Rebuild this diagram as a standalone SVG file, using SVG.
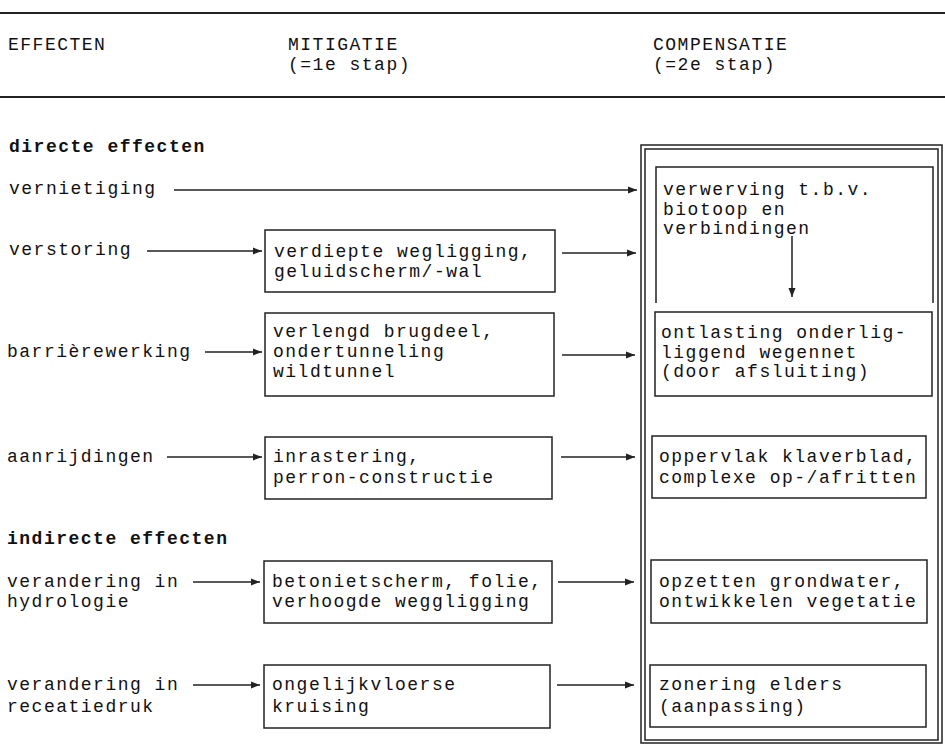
<svg xmlns="http://www.w3.org/2000/svg" width="945" height="746" viewBox="0 0 945 746">
<style>
text{font-family:"Liberation Mono","Courier New",monospace;font-size:18px;letter-spacing:1.5px;fill:#111}
.b{font-weight:bold}
.box{fill:none;stroke:#222;stroke-width:1.5}
.ln{fill:none;stroke:#222;stroke-width:1.5}
.rule{stroke:#222;stroke-width:2}
</style>
<defs>
<marker id="ah" markerUnits="userSpaceOnUse" markerWidth="10" markerHeight="8" refX="9" refY="4" orient="auto">
<path d="M0,0.5 L9,4 L0,7.5 z" fill="#222"/>
</marker>
</defs>
<rect width="945" height="746" fill="#fff"/>
<g id="header">
<line class="rule" x1="0" y1="13" x2="945" y2="13"/>
<line class="rule" x1="0" y1="97" x2="945" y2="97"/>
<text x="8" y="50">EFFECTEN</text>
<text x="288" y="50">MITIGATIE</text>
<text x="288" y="70">(=1e stap)</text>
<text x="653" y="50">COMPENSATIE</text>
<text x="653" y="70">(=2e stap)</text>
</g>
<g id="sections">
<text class="b" x="9" y="152">directe effecten</text>
<text class="b" x="7" y="544">indirecte effecten</text>
</g>
<g id="effects">
<text x="9" y="194">vernietiging</text>
<text x="9" y="255">verstoring</text>
<text x="7" y="357">barrièrewerking</text>
<text x="7" y="462">aanrijdingen</text>
<text x="7" y="587">verandering in</text>
<text x="7" y="607">hydrologie</text>
<text x="7" y="690">verandering in</text>
<text x="7" y="712">receatiedruk</text>
</g>
<g id="mit1">
<rect class="box" x="265" y="230" width="290" height="62"/>
<text x="274" y="257">verdiepte wegligging,</text>
<text x="274" y="277">geluidscherm/-wal</text>
</g>
<g id="mit2">
<rect class="box" x="265" y="313" width="289" height="83"/>
<text x="273" y="337">verlengd brugdeel,</text>
<text x="273" y="357">ondertunneling</text>
<text x="273" y="377">wildtunnel</text>
</g>
<g id="mit3">
<rect class="box" x="265" y="437" width="287" height="62"/>
<text x="273" y="462">inrastering,</text>
<text x="273" y="483">perron-constructie</text>
</g>
<g id="mit4">
<rect class="box" x="264" y="561" width="288" height="62"/>
<text x="272" y="587">betonietscherm, folie,</text>
<text x="272" y="607">verhoogde weggligging</text>
</g>
<g id="mit5">
<rect class="box" x="264" y="665" width="286" height="63"/>
<text x="272" y="690">ongelijkvloerse</text>
<text x="272" y="712">kruising</text>
</g>
<g id="compensatie">
<rect class="box" x="641" y="145" width="301" height="598"/>
<rect class="box" x="645" y="149" width="293" height="591"/>
</g>
<g id="comp1">
<path class="ln" d="M656,303 V167 H933 V303"/>
<text x="663" y="195">verwerving t.b.v.</text>
<text x="663" y="215">biotoop en</text>
<text x="663" y="234">verbindingen</text>
</g>
<g id="comp2">
<rect class="box" x="655" y="312" width="277" height="84"/>
<text x="661" y="338">ontlasting onderlig-</text>
<text x="661" y="358">liggend wegennet</text>
<text x="661" y="377">(door afsluiting)</text>
</g>
<g id="comp3">
<rect class="box" x="652" y="436" width="274" height="62"/>
<text x="659" y="462">oppervlak klaverblad,</text>
<text x="659" y="483">complexe op-/afritten</text>
</g>
<g id="comp4">
<rect class="box" x="651" y="560" width="276" height="63"/>
<text x="659" y="587">opzetten grondwater,</text>
<text x="659" y="607">ontwikkelen vegetatie</text>
</g>
<g id="comp5">
<rect class="box" x="650" y="665" width="276" height="62"/>
<text x="659" y="690">zonering elders</text>
<text x="659" y="712">(aanpassing)</text>
</g>
<g id="connectors">
<line class="ln" x1="174" y1="190" x2="637" y2="190" marker-end="url(#ah)"/>
<line class="ln" x1="147" y1="251" x2="262" y2="251" marker-end="url(#ah)"/>
<line class="ln" x1="562" y1="253" x2="636" y2="253" marker-end="url(#ah)"/>
<line class="ln" x1="792" y1="236" x2="792" y2="297" marker-end="url(#ah)"/>
<line class="ln" x1="205" y1="352" x2="262" y2="352" marker-end="url(#ah)"/>
<line class="ln" x1="562" y1="355" x2="635" y2="355" marker-end="url(#ah)"/>
<line class="ln" x1="167" y1="457" x2="262" y2="457" marker-end="url(#ah)"/>
<line class="ln" x1="561" y1="457" x2="635" y2="457" marker-end="url(#ah)"/>
<line class="ln" x1="193" y1="582" x2="260" y2="582" marker-end="url(#ah)"/>
<line class="ln" x1="558" y1="582" x2="634" y2="582" marker-end="url(#ah)"/>
<line class="ln" x1="193" y1="685" x2="260" y2="685" marker-end="url(#ah)"/>
<line class="ln" x1="557" y1="685" x2="634" y2="685" marker-end="url(#ah)"/>
</g>
</svg>
